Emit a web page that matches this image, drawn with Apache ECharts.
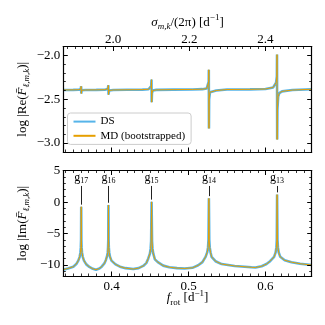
<!DOCTYPE html>
<html><head><meta charset="utf-8">
<script src="https://cdn.jsdelivr.net/npm/echarts@6/dist/echarts.min.js"></script>
<style>html,body{margin:0;padding:0;background:#fff}#c{width:325px;height:325px}</style>
</head><body><div id="c"></div>
<script>
// ---- data ----
const reX = [0.3371,0.3500,0.3570,0.3598,0.3603,0.3605,0.3610,0.3660,0.3800,0.3910,0.3950,0.3957,0.3959,0.3966,0.4020,0.4200,0.4400,0.4480,0.4505,0.4514,0.4518,0.4520,0.4524,0.4535,0.4580,0.4800,0.5050,0.5180,0.5235,0.5253,0.5262,0.5263,0.5265,0.5267,0.5278,0.5299,0.5360,0.5500,0.5800,0.6000,0.6100,0.6138,0.6148,0.6150,0.6152,0.6155,0.6165,0.6180,0.6215,0.6350,0.6601];
const reY = [-2.394,-2.393,-2.391,-2.385,-2.352,-2.435,-2.398,-2.394,-2.393,-2.391,-2.382,-2.340,-2.447,-2.400,-2.394,-2.392,-2.390,-2.386,-2.376,-2.350,-2.276,-2.534,-2.430,-2.400,-2.393,-2.390,-2.388,-2.385,-2.378,-2.360,-2.300,-2.163,-2.833,-2.500,-2.420,-2.410,-2.400,-2.389,-2.387,-2.383,-2.365,-2.310,-2.240,-1.990,-2.960,-2.620,-2.470,-2.430,-2.410,-2.395,-2.386];
const imX = [0.3371,0.3430,0.3501,0.3540,0.3566,0.3584,0.3594,0.3599,0.3602,0.3604,0.3606,0.3609,0.3614,0.3624,0.3640,0.3670,0.3710,0.3755,0.3796,0.3840,0.3870,0.3905,0.3925,0.3940,0.3949,0.3953,0.3956,0.3958,0.3960,0.3963,0.3968,0.3978,0.3997,0.4050,0.4108,0.4180,0.4281,0.4350,0.4410,0.4450,0.4475,0.4497,0.4507,0.4513,0.4519,0.4525,0.4531,0.4541,0.4562,0.4600,0.4670,0.4750,0.4850,0.4950,0.5050,0.5125,0.5180,0.5221,0.5242,0.5253,0.5259,0.5264,0.5269,0.5275,0.5286,0.5299,0.5350,0.5429,0.5600,0.5818,0.5870,0.5950,0.6013,0.6060,0.6112,0.6132,0.6142,0.6147,0.6151,0.6156,0.6162,0.6172,0.6192,0.6250,0.6338,0.6450,0.6601];
const imY = [-10.75,-10.55,-10.27,-9.85,-9.3,-8.7,-8.0,-7.2,-6.0,-0.73,-6.0,-7.2,-8.0,-8.7,-9.3,-9.9,-10.3,-10.6,-10.75,-10.55,-10.27,-9.75,-9.2,-8.6,-8.0,-7.2,-6.0,-0.45,-6.0,-7.2,-8.0,-8.7,-9.3,-9.9,-10.27,-10.5,-10.65,-10.5,-10.15,-9.7,-9.0,-8.2,-7.4,-6.2,0.05,-6.2,-7.4,-8.2,-9.1,-9.55,-10.1,-10.35,-10.5,-10.55,-10.45,-10.05,-9.55,-8.7,-8.0,-7.2,-6.0,0.6,-6.0,-7.2,-8.0,-8.7,-9.4,-9.85,-10.15,-10.37,-10.4,-10.2,-9.85,-9.4,-8.7,-8.0,-7.2,-6.0,1.2,-6.0,-7.2,-8.0,-8.7,-9.25,-9.55,-9.8,-10.0];
const peakX = [0.3604,0.3958,0.4519,0.5264,0.6151];
const modeNums = ['17','16','15','14','13'];
const lineBottom = [-0.4,-0.1,0.4,0.95,1.55];
const lineTop = 2.57;
const frotTicks = [0.4,0.5,0.6];
const sigmaTicks = [2.0,2.2,2.4];
const reTicks = [-3.0,-2.5,-2.0];
const imTicks = [-10,-5,0,5];
const fRange = [0.3371,0.6601];
const sRange = [1.869,2.5215];
const reRange = [-3.102,-1.898];
const imRange = [-11.75,5.03];

function steps(a,b,s){const o=[];let v=Math.ceil(a/s-1e-9)*s;while(v<=b+1e-9){o.push(+v.toFixed(4));v+=s;}return o;}
const FONT='Liberation Serif';
const minus = v => String(v).replace('-', '\u2212');

function ax(o){
  const major = !o.minor;
  return {
    type:'value', gridIndex:o.g, position:o.pos, min:o.range[0], max:o.range[1],
    splitLine:{show:false},
    axisLine:{show:major, onZero:false, lineStyle:{color:'#000',width:1.2}},
    axisTick:{show:true, inside:true, length: major?4.5:2.5, customValues:o.ticks, lineStyle:{color:'#000',width: major?1:0.8}},
    axisLabel:{show:!!o.label, customValues:o.ticks, formatter:o.fmt, margin:(o.margin!=null?o.margin:4), fontFamily:FONT, fontSize:13, color:'#000'},
    name:o.name||'', nameLocation:'middle', nameGap:o.gap||0, nameRotate:o.rot,
    nameMoveOverlap:false,
    nameTextStyle:o.nts||{},
    z:5
  };
}
const richBase = {
  n:{fontFamily:FONT,fontSize:13,lineHeight:18,color:'#000'},
  i:{fontFamily:FONT,fontSize:13,lineHeight:18,fontStyle:'italic',color:'#000'},
  sub:{fontFamily:FONT,fontSize:9,lineHeight:8,fontStyle:'italic',verticalAlign:'bottom',color:'#000'},
  subr:{fontFamily:FONT,fontSize:9,lineHeight:8,verticalAlign:'bottom',color:'#000'},
  sup:{fontFamily:FONT,fontSize:9,lineHeight:8,verticalAlign:'top',color:'#000'}
};

const fMinor = steps(fRange[0],fRange[1],0.01);
const sMinor = steps(sRange[0],sRange[1],0.02);
const reMinor = steps(reRange[0],reRange[1],0.1);
const imMinor = steps(imRange[0],imRange[1],1);

const xAxis = [
  ax({g:0,pos:'bottom',range:fRange,ticks:frotTicks}),
  ax({g:0,pos:'bottom',range:fRange,ticks:fMinor,minor:true}),
  ax({g:0,pos:'top',range:sRange,ticks:sigmaTicks,label:true,margin:0,fmt:v=>v.toFixed(1),
      name:'{i|σ}{sub|m,k}{n|/(2π) [d}{sup|−1}{n|]}',gap:15,nts:{rich:richBase}}),
  ax({g:0,pos:'top',range:sRange,ticks:sMinor,minor:true}),
  ax({g:1,pos:'bottom',range:fRange,ticks:frotTicks,label:true,fmt:v=>v.toFixed(1),
      name:'{i|f}{subr|rot}{n| [d}{sup|−1}{n|]}',gap:13,nts:{rich:richBase}}),
  ax({g:1,pos:'bottom',range:fRange,ticks:fMinor,minor:true}),
  ax({g:1,pos:'top',range:fRange,ticks:frotTicks}),
  ax({g:1,pos:'top',range:fRange,ticks:fMinor,minor:true})
];
const yAxis = [
  ax({g:0,pos:'left',range:reRange,ticks:reTicks,label:true,margin:3,fmt:v=>minus(v.toFixed(1)),
      name:'{n|log |Re(}{i|F\u0304}{sub|ℓ,m,k}{n|)|}',gap:32,rot:90,nts:{rich:richBase}}),
  ax({g:0,pos:'left',range:reRange,ticks:reMinor,minor:true}),
  ax({g:0,pos:'right',range:reRange,ticks:reTicks}),
  ax({g:0,pos:'right',range:reRange,ticks:reMinor,minor:true}),
  ax({g:1,pos:'left',range:imRange,ticks:imTicks,label:true,margin:3,fmt:v=>minus(String(v)),
      name:'{n|log |Im(}{i|F\u0304}{sub|ℓ,m,k}{n|)|}',gap:32,rot:90,nts:{rich:richBase}}),
  ax({g:1,pos:'left',range:imRange,ticks:imMinor,minor:true}),
  ax({g:1,pos:'right',range:imRange,ticks:imTicks}),
  ax({g:1,pos:'right',range:imRange,ticks:imMinor,minor:true})
];

const reData = reX.map((x,i)=>[x,reY[i]]);
const imData = imX.map((x,i)=>[x,imY[i]]);
const BLUE='#56B4E9', ORANGE='#E69F00';
function line(name,data,xi,yi,color,w,extra){
  return Object.assign({type:'line',name,data,xAxisIndex:xi,yAxisIndex:yi,showSymbol:false,symbol:'none',
    sampling:null,lineStyle:{color,width:w},itemStyle:{color},animation:false,z:3},extra||{});
}
const markData = peakX.map((x,i)=>[
  {coord:[x,lineTop], label:{formatter:'{g|g}{s|'+modeNums[i]+'}'}},
  {coord:[x,lineBottom[i]]}
]);

const option = {
  animation:false,
  grid:[
    {left:63.3,right:13.3,top:46.5,height:105.5},
    {left:63.3,right:13.3,top:170.5,height:105.5}
  ],
  xAxis, yAxis,
  legend:{
    left:67.5, top:113, orient:'vertical', itemWidth:22, itemGap:3,
    padding:[3,6,3,5], borderColor:'#cccccc', borderWidth:1, borderRadius:3,
    backgroundColor:'rgba(255,255,255,0.8)',
    itemStyle:{color:'rgba(0,0,0,0)',borderColor:'rgba(0,0,0,0)',borderWidth:0,opacity:0},
    textStyle:{fontFamily:FONT,fontSize:11,color:'#000'},
    data:['DS','MD (bootstrapped)']
  },
  series:[
    line('DS',reData,0,0,BLUE,2.6),
    line('MD (bootstrapped)',reData,0,0,ORANGE,1),
    line('DS',imData,4,4,BLUE,2.6,{markLine:{silent:true,symbol:['none','none'],animation:false,
      lineStyle:{color:'#222',width:1,type:'solid'},
      label:{show:true,position:'start',distance:1,
        rich:{g:{fontFamily:FONT,fontSize:12,color:'#000',lineHeight:14},
              s:{fontFamily:FONT,fontSize:8,color:'#000',lineHeight:8,verticalAlign:'bottom'}}},
      data:markData}}),
    line('MD (bootstrapped)',imData,4,4,ORANGE,1)
  ]
};
const chart = echarts.init(document.getElementById('c'),null,{renderer:'canvas'});
chart.setOption(option);
</script></body></html>
